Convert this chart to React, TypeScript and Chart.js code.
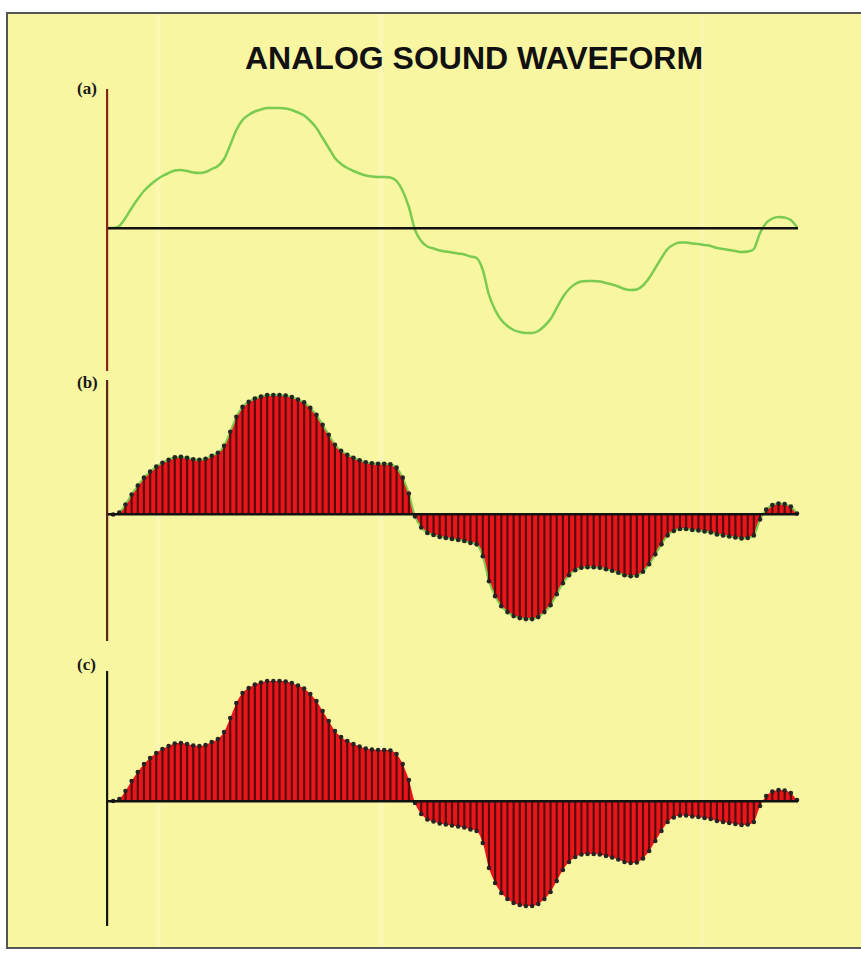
import React, { useEffect, useRef } from "react";
import { Chart, registerables } from "chart.js";

Chart.register(...registerables);

const TITLE = "ANALOG SOUND WAVEFORM";
const PANEL_LABELS = ["(a)", "(b)", "(c)"];

// Waveform amplitude at each sampling instant (arbitrary units, + above the zero line)
const amplitude = [
  0, 2, 10, 20, 29, 37, 43, 48, 52, 55,
  57.5, 58, 57, 55.5, 55, 56, 59, 62, 69, 83,
  98, 108, 113, 116.5, 118.5, 120, 120, 120, 119.5, 118,
  115.5, 112.5, 107, 100, 90, 80, 70, 64, 60, 57,
  54.5, 52.5, 51.5, 51, 51, 50.5, 47, 37, 21, -2,
  -13, -18.5, -20.5, -22.5, -23.5, -24.5, -25.5, -26.5, -28.5, -30,
  -42, -67, -82, -92, -98, -102, -104, -105, -105, -103,
  -98, -91, -80, -69, -61, -56, -53.5, -53, -53, -53.5,
  -55, -56.5, -58.5, -61, -62, -61.5, -57.5, -50, -40, -30,
  -21, -16.5, -14.5, -14.5, -15.5, -16, -17, -18, -20, -21,
  -22, -23, -24, -23.5, -21, -5, 5, 9.5, 11, 10.5,
  8, 1,
];

// time axis: the wave starts at the vertical axis (t = -1) and ends at the last sample
const T_START = -1;
const T_END = amplitude.length - 1;

// per-panel amplitude range shown by each vertical axis
const yMinByPanel = [-142, -126, -124];
const yMaxByPanel = [138, 134, 129];

const GREEN = "#7acb52";
const RED = "#e8151a";
const STEM = "#560c0c";
const DOT = "#242424";

type Kind = "analog" | "sampled" | "held";

interface PanelProps {
  kind: Kind;
  idx: number;
  axisTop: number;
  axisHeight: number;
  axisColor: string;
}

const PAD = 10;
const AREA_LEFT = 107;
const AREA_WIDTH = 690;

function Panel({ kind, idx, axisTop, axisHeight, axisColor }: PanelProps) {
  const ref = useRef<HTMLCanvasElement | null>(null);

  useEffect(() => {
    if (!ref.current) return;
    const samples = amplitude.map((v, i) => ({ x: i, y: v }));
    const curve = [{ x: T_START, y: 0 }, ...samples];
    const datasets: any[] = [];
    if (kind === "analog") {
      datasets.push({
        type: "line",
        data: curve,
        borderColor: GREEN,
        borderWidth: 2.5,
        pointRadius: 0,
        cubicInterpolationMode: "monotone",
        fill: false,
        clip: false,
      });
    } else {
      datasets.push({
        type: "line",
        data: curve,
        borderColor: kind === "sampled" ? GREEN : "rgba(0,0,0,0)",
        borderWidth: kind === "sampled" ? 2 : 0,
        backgroundColor: RED,
        pointRadius: 0,
        cubicInterpolationMode: "monotone",
        fill: "origin",
        order: 3,
        clip: false,
      });
      datasets.push({
        type: "bar",
        data: samples,
        backgroundColor: STEM,
        barThickness: 1.5,
        order: 2,
        clip: false,
      });
      datasets.push({
        type: "line",
        data: samples,
        showLine: false,
        pointRadius: 2.3,
        pointBackgroundColor: DOT,
        pointBorderWidth: 0,
        order: 1,
        clip: false,
      });
    }

    const chart = new Chart(ref.current, {
      type: "line",
      data: { datasets },
      options: {
        animation: false,
        responsive: false,
        maintainAspectRatio: false,
        layout: { padding: PAD },
        plugins: {
          legend: { display: false },
          tooltip: { enabled: false },
          title: { display: false },
        },
        scales: {
          x: {
            type: "linear",
            min: T_START,
            max: T_END,
            offset: false,
            position: { y: 0 },
            ticks: { display: false },
            grid: { display: false, drawTicks: false, offset: false },
            border: { display: true, color: "#121212", width: 2.5, z: 1 },
          },
          y: {
            type: "linear",
            min: yMinByPanel[idx],
            max: yMaxByPanel[idx],
            position: { x: T_START },
            ticks: { display: false },
            grid: { display: false, drawTicks: false },
            border: { display: true, color: axisColor, width: 2.2, z: 1 },
          },
        },
      } as any,
    });
    return () => chart.destroy();
  }, [kind, idx, axisTop, axisHeight, axisColor]);

  const w = AREA_WIDTH + PAD * 2;
  const h = axisHeight + PAD * 2;
  return (
    <canvas
      ref={ref}
      width={w}
      height={h}
      style={{
        position: "absolute",
        left: AREA_LEFT - PAD,
        top: axisTop - PAD,
        width: w,
        height: h,
      }}
    />
  );
}

const labelStyle = (top: number): React.CSSProperties => ({
  position: "absolute",
  left: 77,
  top,
  font: "bold 17px 'Liberation Serif', 'DejaVu Serif', serif",
  color: "#1a1a1a",
  lineHeight: "18px",
});

export default function App() {
  return (
    <div
      style={{
        position: "absolute",
        left: 0,
        top: 0,
        width: 861,
        height: 953,
        background: "#ffffff",
        overflow: "hidden",
      }}
    >
      <div
        style={{
          position: "absolute",
          left: 6,
          top: 12,
          width: 861,
          height: 937,
          boxSizing: "border-box",
          borderTop: "2px solid #555",
          borderLeft: "2px solid #555",
          borderBottom: "2px solid #555",
          background:
            "linear-gradient(90deg, rgba(255,255,255,0) 0px, rgba(255,255,255,0) 146px, rgba(255,255,255,0.22) 150px, rgba(255,255,255,0) 154px, rgba(255,255,255,0) 369px, rgba(255,255,255,0.25) 373px, rgba(255,255,255,0) 377px, rgba(255,255,255,0) 691px, rgba(255,255,255,0.18) 694px, rgba(255,255,255,0) 698px), #f9f6a1",
        }}
      />
      <div
        style={{
          position: "absolute",
          left: 245,
          top: 42,
          whiteSpace: "nowrap",
          font: "bold 32px 'Liberation Sans', Arial, sans-serif",
          lineHeight: "32px",
          color: "#111",
        }}
      >
        {TITLE}
      </div>
      <div style={labelStyle(80)}>{PANEL_LABELS[0]}</div>
      <div style={labelStyle(374)}>{PANEL_LABELS[1]}</div>
      <div style={labelStyle(656)}>{PANEL_LABELS[2]}</div>
      <Panel kind="analog" idx={0} axisTop={90} axisHeight={280} axisColor="#8a2418" />
      <Panel kind="sampled" idx={1} axisTop={381} axisHeight={259} axisColor="#5a2418" />
      <Panel kind="held" idx={2} axisTop={672} axisHeight={253} axisColor="#151515" />
    </div>
  );
}
